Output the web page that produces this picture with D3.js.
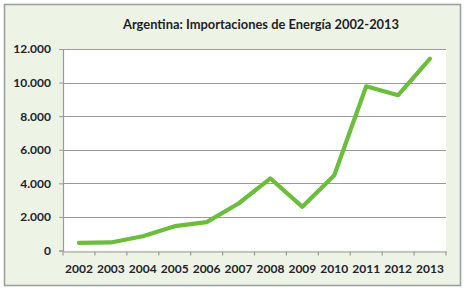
<!DOCTYPE html>
<html><head><meta charset="utf-8">
<script src="https://cdn.jsdelivr.net/npm/d3@7"></script>
<style>body{margin:0;background:#fff}svg{display:block}</style>
</head><body>
<script>
const years = ["2002","2003","2004","2005","2006","2007","2008","2009","2010","2011","2012","2013"];
const imports = [450, 480, 850, 1450, 1690, 2800, 4290, 2600, 4480, 9780, 9250, 11420];
const yTicks = [0, 2000, 4000, 6000, 8000, 10000, 12000];
const title = "Argentina: Importaciones de Energía 2002-2013";

(function () {
const W = 465, H = 291;
const svg = d3.select("body").append("svg").attr("width", W).attr("height", H);
const font = "Lato, 'Open Sans', sans-serif";

svg.append("rect").attr("x", 4.5).attr("y", 4.5).attr("width", 456).attr("height", 281)
  .attr("fill", "#EDF4E5").attr("stroke", "#A0A0A0").attr("stroke-width", 1.6);

const pl = 63, pr = 446, pt = 49, pb = 250.5;
svg.append("rect").attr("x", pl).attr("y", pt).attr("width", pr - pl).attr("height", pb - pt).attr("fill", "#fff");

const x = d3.scaleBand().domain(years).range([pl, pr]);
const y = d3.scaleLinear().domain([0, 12000]).range([pb, pt]);
const fmt = d => d3.format(",")(d).replace(/,/g, ".");

svg.append("g").selectAll("line").data(yTicks.filter(d => d > 0)).join("line")
  .attr("x1", pl).attr("x2", pr)
  .attr("y1", d => Math.round(y(d)) + 0.5).attr("y2", d => Math.round(y(d)) + 0.5)
  .attr("stroke", "#9A9A9A").attr("stroke-width", 1.2);

const ya = svg.append("g").attr("transform", `translate(${pl},0)`)
  .call(d3.axisLeft(y).tickValues(yTicks).tickFormat(fmt).tickSize(4).tickPadding(8));
ya.select(".domain").attr("stroke", "#9A9A9A").attr("stroke-width", 1.2);
ya.selectAll(".tick line").attr("stroke", "#9A9A9A");
ya.selectAll("text").attr("font-family", font).attr("font-size", 12).attr("font-weight", 700).attr("fill", "#22222E");

const xa = svg.append("g").attr("transform", `translate(0,${pb + 1})`)
  .call(d3.axisBottom(x).tickSize(0).tickPadding(13));
xa.select(".domain").attr("stroke", "#9A9A9A").attr("stroke-width", 1.2);
xa.selectAll("text").attr("font-family", font).attr("font-size", 12).attr("font-weight", 700).attr("fill", "#22222E");
const edges = years.map(d => x(d)).concat([pr]);
xa.selectAll(".edge").data(edges).join("line").attr("class", "edge")
  .attr("x1", d => d).attr("x2", d => d).attr("y1", 0).attr("y2", 4)
  .attr("stroke", "#9A9A9A").attr("stroke-width", 1.2);

const line = d3.line().x((d, i) => x(years[i]) + x.bandwidth() / 2).y(d => y(d));
svg.append("path").datum(imports).attr("d", line).attr("fill", "none")
  .attr("stroke", "#6BBE3C").attr("stroke-width", 4.2)
  .attr("stroke-linejoin", "round").attr("stroke-linecap", "round");

svg.append("text").attr("x", 261).attr("y", 29).attr("text-anchor", "middle")
  .attr("font-family", font).attr("font-size", 12.9).attr("font-weight", 700).attr("fill", "#1E1E28")
  .text(title);
})();
</script>
</body></html>
